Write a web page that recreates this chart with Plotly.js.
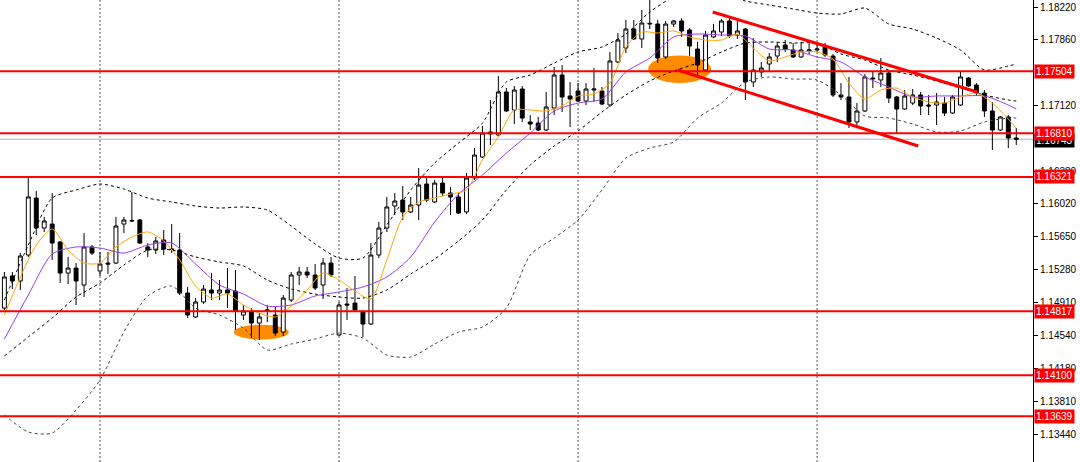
<!DOCTYPE html>
<html>
<head>
<meta charset="utf-8">
<script src="https://cdn.plot.ly/plotly-3.0.1.min.js"></script>
<style>html,body{margin:0;padding:0;background:#fff;}#chart{width:1080px;height:462px;}</style>
</head>
<body>
<div id="chart"></div>
<script>
// ---- Candle data (H4 bars) ----
const open = [1.14852,1.15211,1.15155,1.15446,1.16084,1.15748,1.15793,1.15592,1.15244,1.15300,
1.15110,1.15536,1.15267,1.15356,1.15356,1.15793,1.15827,1.15838,1.15536,1.15502,
1.15614,1.15513,1.15502,1.15020,1.14752,1.14920,1.15054,1.15020,1.15054,1.15043,
1.14774,1.14808,1.14684,1.14819,1.14774,1.14584,1.14942,1.15222,1.15256,1.15222,
1.15110,1.15356,1.14550,1.14897,1.14908,1.14808,1.14673,1.15446,1.15748,1.15995,
1.16062,1.15928,1.16006,1.16241,1.16040,1.16252,1.16140,1.16096,1.15928,1.16308,
1.16544,1.16824,1.16790,1.17272,1.17070,1.17305,1.16936,1.16924,1.16846,1.17092,
1.17462,1.17227,1.17283,1.17171,1.17294,1.17283,1.17126,1.17608,1.17764,1.17977,
1.17865,1.18033,1.18033,1.17664,1.18033,1.18067,1.17966,1.17753,1.17518,1.17888,
1.17944,1.18067,1.17910,1.17977,1.17384,1.17496,1.17585,1.17675,1.17798,1.17742,
1.17664,1.17731,1.17742,1.17787,1.17675,1.17238,1.17216,1.16936,1.17059,1.17428,
1.17406,1.17484,1.17216,1.17081,1.17148,1.17238,1.17126,1.17126,1.17148,1.17036,
1.17126,1.17428,1.17350,1.17260,1.17059,1.16846,1.16992,1.16756];
const high = [1.15256,1.15256,1.15468,1.16308,1.16163,1.15872,1.16140,1.15603,1.15424,1.15356,
1.15692,1.15558,1.15480,1.15480,1.15872,1.15872,1.16152,1.15849,1.15580,1.15648,
1.15726,1.15793,1.15692,1.15088,1.14964,1.15110,1.15244,1.15166,1.15300,1.15278,
1.14886,1.14852,1.14796,1.14886,1.14864,1.14998,1.15256,1.15312,1.15312,1.15345,
1.15412,1.15424,1.14920,1.15076,1.15211,1.14830,1.15580,1.15816,1.16096,1.16140,
1.16219,1.16096,1.16420,1.16308,1.16286,1.16320,1.16208,1.16140,1.16364,1.16644,
1.16891,1.17182,1.17451,1.17316,1.17339,1.17339,1.17014,1.16992,1.17272,1.17552,
1.17574,1.17384,1.17372,1.17372,1.17540,1.17328,1.17720,1.17932,1.18078,1.18078,
1.18190,1.18336,1.18078,1.18067,1.18078,1.18100,1.17988,1.17832,1.17955,1.18033,
1.18089,1.18100,1.18067,1.17988,1.17876,1.17608,1.17708,1.17832,1.17854,1.17820,
1.17832,1.17854,1.17820,1.17820,1.17697,1.17372,1.17440,1.17148,1.17473,1.17496,
1.17652,1.17518,1.17227,1.17294,1.17305,1.17272,1.17238,1.17260,1.17216,1.17238,
1.17496,1.17440,1.17372,1.17294,1.17160,1.17003,1.17014,1.16868];
const low = [1.14830,1.15065,1.15054,1.15424,1.15670,1.15704,1.15390,1.15132,1.15121,1.14886,
1.14976,1.15446,1.15211,1.15233,1.15345,1.15692,1.15816,1.15569,1.15424,1.15457,
1.15446,1.15468,1.14998,1.14740,1.14740,1.14897,1.14942,1.14942,1.14852,1.14606,
1.14718,1.14516,1.14494,1.14696,1.14539,1.14539,1.14920,1.15110,1.15188,1.15054,
1.14953,1.15200,1.14539,1.14718,1.14808,1.14528,1.14662,1.15412,1.15704,1.15894,
1.15838,1.15916,1.15838,1.16040,1.16028,1.16107,1.15894,1.15905,1.15905,1.16286,
1.16532,1.16678,1.16779,1.17048,1.16913,1.16936,1.16846,1.16835,1.16835,1.17014,
1.17048,1.16880,1.17160,1.17126,1.17160,1.17126,1.17104,1.17596,1.17708,1.17854,
1.17764,1.17977,1.17596,1.17641,1.18000,1.17888,1.17675,1.17462,1.17507,1.17876,
1.17899,1.17876,1.17865,1.17182,1.17328,1.17440,1.17507,1.17608,1.17720,1.17652,
1.17652,1.17697,1.17720,1.17664,1.17216,1.17182,1.16868,1.16868,1.17048,1.17316,
1.17328,1.17148,1.16812,1.17070,1.17126,1.17014,1.17014,1.16902,1.17003,1.17025,
1.17115,1.17328,1.17238,1.16992,1.16622,1.16835,1.16644,1.16678];
const close = [1.15200,1.15155,1.15435,1.16096,1.15748,1.15827,1.15580,1.15244,1.15300,1.15155,
1.15536,1.15468,1.15345,1.15345,1.15771,1.15838,1.15830,1.15580,1.15502,1.15603,
1.15513,1.15510,1.15020,1.14774,1.14920,1.15065,1.15020,1.15054,1.15020,1.14819,
1.14819,1.14684,1.14752,1.14830,1.14572,1.14964,1.15222,1.15256,1.15222,1.15076,
1.15356,1.15222,1.14886,1.14886,1.14830,1.14673,1.15446,1.15748,1.15984,1.16051,
1.15928,1.16006,1.16230,1.16062,1.16252,1.16140,1.16096,1.15916,1.16308,1.16566,
1.16812,1.16801,1.17272,1.17059,1.17294,1.16980,1.16913,1.16846,1.17104,1.17462,
1.17216,1.17193,1.17171,1.17305,1.17305,1.17137,1.17619,1.17854,1.17977,1.17865,
1.18044,1.18040,1.17652,1.18033,1.18067,1.17955,1.17787,1.17574,1.17910,1.17955,
1.18067,1.17899,1.17955,1.17384,1.17518,1.17540,1.17664,1.17787,1.17753,1.17664,
1.17742,1.17742,1.17753,1.17686,1.17238,1.17216,1.16936,1.17059,1.17440,1.17420,
1.17484,1.17204,1.17081,1.17227,1.17238,1.17115,1.17115,1.17160,1.17036,1.17216,
1.17440,1.17339,1.17260,1.17059,1.16846,1.16992,1.16756,1.16743];

// ---- Fast MA (orange), sampled at bar indices ----
const fastIdx = [0,2,4,6,8,10,12,14,16,18,20,22,24,26,28,30,32,34,36,38,40,42,44,46,48,50,52,54,56,58,60,62,64,66,68,70,72,74,76,78,80,82,84,86,88,90,92,94,96,98,100,102,104,106,108,110,112,114,116,118,120,122,124,126,127];
const fastMA = [1.14774,1.15200,1.15558,1.15737,1.15502,1.15356,1.15356,1.15536,1.15648,1.15704,
1.15603,1.15390,1.15099,1.14964,1.15009,1.14886,1.14796,1.14752,1.14875,1.15054,
1.15244,1.15166,1.15043,1.14953,1.15390,1.15872,1.16040,1.16084,1.16129,1.16174,
1.16510,1.16768,1.17070,1.17070,1.17059,1.17115,1.17227,1.17249,1.17372,1.17776,
1.17944,1.17932,1.17955,1.17888,1.17854,1.17854,1.17921,1.17764,1.17619,1.17664,
1.17720,1.17720,1.17641,1.17372,1.17193,1.17294,1.17316,1.17216,1.17160,1.17148,
1.17216,1.17260,1.17148,1.16969,1.16868];

// ---- Slow MA (purple) and Bollinger bands, sampled at bar indices ----
const bandIdx = [0,3,6,9,12,15,18,21,24,27,30,33,36,39,42,45,48,51,54,57,60,63,66,69,72,75,78,81,84,87,90,93,96,99,102,105,108,111,114,117,120,123,126,127];
const slowMA = [1.14505,1.14998,1.15457,1.15536,1.15524,1.15468,1.15558,1.15580,1.15345,1.15110,
1.15009,1.14875,1.14886,1.14987,1.15032,1.15088,1.15200,1.15424,1.15816,1.16129,
1.16342,1.16588,1.16812,1.17059,1.17148,1.17193,1.17496,1.17652,1.17888,1.17921,
1.17910,1.17899,1.17753,1.17742,1.17664,1.17608,1.17440,1.17328,1.17216,1.17227,
1.17227,1.17227,1.17126,1.17081];
const bbUpper = [1.14942,1.15558,1.16084,1.16174,1.16241,1.16185,1.16084,1.16040,1.15995,1.15972,
1.15984,1.15950,1.15771,1.15569,1.15412,1.15412,1.15782,1.16174,1.16476,1.16700,
1.16924,1.17384,1.17462,1.17596,1.17720,1.17776,1.17921,1.18168,1.18336,1.18414,
1.18392,1.18291,1.18246,1.18201,1.18156,1.18145,1.18212,1.18033,1.17977,1.17876,
1.17742,1.17518,1.17563,1.17585];
const bbMiddle = [1.14315,1.14528,1.14740,1.14976,1.15132,1.15334,1.15502,1.15502,1.15424,1.15368,
1.15323,1.15166,1.15065,1.15009,1.14976,1.14964,1.15054,1.15233,1.15401,1.15603,
1.15838,1.16174,1.16454,1.16667,1.16835,1.17048,1.17238,1.17395,1.17507,1.17596,
1.17720,1.17820,1.17832,1.17820,1.17820,1.17697,1.17630,1.17518,1.17462,1.17395,
1.17316,1.17238,1.17182,1.17171];
const bbLower = [1.13654,1.13464,1.13452,1.13710,1.14046,1.14584,1.14987,1.15099,1.14852,1.14774,
1.14628,1.14382,1.14449,1.14505,1.14572,1.14516,1.14326,1.14304,1.14449,1.14584,
1.14640,1.14852,1.15446,1.15636,1.15838,1.16174,1.16532,1.16644,1.16712,1.16980,
1.17148,1.17384,1.17440,1.17417,1.17406,1.17238,1.17003,1.16980,1.16913,1.16824,
1.16835,1.16936,1.16980,1.16980];

// ---- Levels, separators, drawings ----
const levels = [1.17504, 1.16810, 1.16321, 1.14817, 1.14100, 1.13639];
const currentPrice = 1.16743;
const separators = [12, 42, 72, 102];
const tickVals = [1.18220,1.17860,1.17120,1.16380,1.16020,1.15650,1.15280,1.14910,1.14540,1.14180,1.13810,1.13440];
const tickText = ['1.18220','1.17860','1.17120','1.16380','1.16020','1.15650','1.15280','1.14910','1.14540','1.14180','1.13810','1.13440'];
// ellipses: [x0, x1, y0, y1] in bar index / price
const ellipses = [[28.8, 35.7, 1.14500, 1.14665], [80.8, 88.7, 1.17372, 1.17680]];
// channel lines: [x0, y0, x1, y1]
const channel = [[88.9, 1.18168, 122.1, 1.17272], [84.5, 1.17518, 114.7, 1.16667]];

const idx = open.map((_, i) => i);
const FONT = 'Liberation Sans, Arial, sans-serif';

const traces = [
  {type:'candlestick', x: idx, open, high, low, close,
   increasing:{line:{color:'#000', width:1}, fillcolor:'#ffffff'},
   decreasing:{line:{color:'#000', width:1}, fillcolor:'#000000'},
   whiskerwidth:0, hoverinfo:'skip'},
  {type:'scatter', mode:'lines', x: bandIdx, y: bbUpper, line:{color:'#000', width:1, dash:'3px,3px', shape:'spline', smoothing:0.7}, hoverinfo:'skip'},
  {type:'scatter', mode:'lines', x: bandIdx, y: bbMiddle, line:{color:'#000', width:1, dash:'3px,3px', shape:'spline', smoothing:0.7}, hoverinfo:'skip'},
  {type:'scatter', mode:'lines', x: bandIdx, y: bbLower, line:{color:'#444', width:1, dash:'3px,3px', shape:'spline', smoothing:0.7}, hoverinfo:'skip'},
  {type:'scatter', mode:'lines', x: bandIdx, y: slowMA, line:{color:'#9a3cf0', width:1, shape:'spline', smoothing:0.7}, hoverinfo:'skip'},
  {type:'scatter', mode:'lines', x: fastIdx, y: fastMA, line:{color:'#ffa500', width:1, shape:'spline', smoothing:0.7}, hoverinfo:'skip'}
];

const shapes = [];
separators.forEach(s => shapes.push({type:'line', xref:'x', yref:'paper', x0:s, x1:s, y0:0, y1:1,
  line:{color:'#555', width:1, dash:'2px,2px'}, layer:'below'}));
ellipses.forEach(e => shapes.push({type:'circle', xref:'x', yref:'y', x0:e[0], x1:e[1], y0:e[2], y1:e[3],
  fillcolor:'#ff8c00', line:{width:0}, layer:'below'}));
shapes.push({type:'line', xref:'paper', yref:'y', x0:0, x1:1, y0:currentPrice, y1:currentPrice,
  line:{color:'#aab4c4', width:1}, layer:'below'});
levels.forEach(l => shapes.push({type:'line', xref:'paper', yref:'y', x0:0, x1:1, y0:l, y1:l,
  line:{color:'#ff0000', width:2}, layer:'above'}));
channel.forEach(c => shapes.push({type:'line', xref:'x', yref:'y', x0:c[0], y0:c[1], x1:c[2], y1:c[3],
  line:{color:'#ff0000', width:3}, layer:'above'}));

// current-price tag first so the red level tags sit on top of it
const annotations = [{xref:'paper', yref:'y', x:1, y:currentPrice, xanchor:'left', yanchor:'top', xshift:1, yshift:6,
  text: currentPrice.toFixed(5), showarrow:false, bgcolor:'#000000', borderpad:1,
  font:{family:FONT, size:10, color:'#ffffff'}}];
levels.forEach(l => annotations.push({xref:'paper', yref:'y', x:1, y:l, xanchor:'left', yanchor:'middle', xshift:1,
  text: l.toFixed(5), showarrow:false, bgcolor:'#ff0000', borderpad:1,
  font:{family:FONT, size:10, color:'#ffffff'}}));

const layout = {
  width:1080, height:462,
  margin:{l:0, r:47, t:0, b:0, pad:0},
  paper_bgcolor:'#ffffff', plot_bgcolor:'#ffffff',
  showlegend:false,
  font:{family:FONT, size:10, color:'#000'},
  xaxis:{range:[-0.55, 129.1], visible:false, showgrid:false, zeroline:false, rangeslider:{visible:false}, fixedrange:true},
  yaxis:{side:'right', range:[1.13128, 1.18302], tickvals:tickVals, ticktext:tickText,
    ticks:'outside', ticklen:4, tickcolor:'#000', tickwidth:1,
    showline:true, linecolor:'#000', linewidth:1, showgrid:false, zeroline:false,
    tickfont:{family:FONT, size:10, color:'#000'}, fixedrange:true},
  shapes, annotations
};

Plotly.newPlot('chart', traces, layout, {staticPlot:true, displayModeBar:false});
</script>
</body>
</html>
